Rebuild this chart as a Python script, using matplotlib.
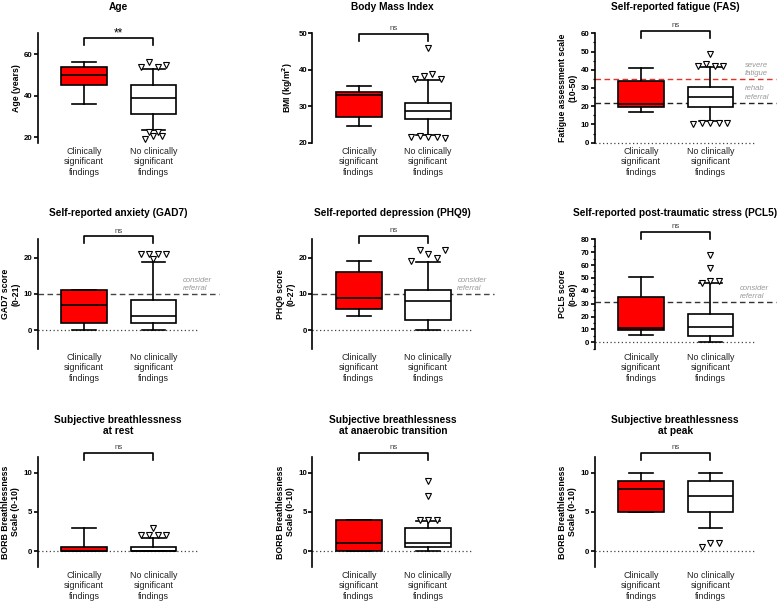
import numpy as np
import matplotlib
matplotlib.use('Agg')
import matplotlib.pyplot as plt
from matplotlib.ticker import MultipleLocator

plt.rcParams['font.family'] = ['Liberation Sans', 'DejaVu Sans']

groups = ['Clinically\nsignificant\nfindings', 'No clinically\nsignificant\nfindings']

# box stats per group: [whisker low, q1, median, q3, whisker high]
age_box = [[36, 45, 50, 53.6, 56], [23.5, 31.2, 38.9, 45.4, 52.9]]
age_out = [[], [54, 56, 54, 55, 22.7, 22.7, 19.2, 20.5, 20.5]]
bmi_box = [[24.6, 27.1, 33.0, 33.8, 35.5], [22.0, 26.4, 28.6, 30.9, 37.2]]
bmi_out = [[], [46, 37.4, 38.3, 38.9, 37.6, 21.5, 21.8, 21.5, 21.6, 21.3]]
fas_box = [[17, 19.5, 21, 34, 41], [12, 19.5, 25, 30.5, 41.5]]
fas_out = [[], [48.5, 42, 43, 42, 42, 10, 11, 11, 11, 11]]
gad7_box = [[0, 2, 7, 11, 11], [0, 2, 4, 8.3, 18.8]]
gad7_out = [[], [21, 21, 21, 21, 19.5]]
phq9_box = [[4, 6, 9, 16, 19], [0, 3, 8, 11, 18.7]]
phq9_out = [[], [19, 22, 21, 20, 22]]
pcl5_box = [[6, 9.5, 11, 35.5, 51], [0, 5, 12, 22, 46]]
pcl5_out = [[], [68, 58, 46, 47.5, 47.5]]
rest_box = [[0, 0, 0, 0.5, 3], [0, 0, 0, 0.5, 1.7]]
rest_out = [[], [2, 2, 2, 2, 3]]
anaer_box = [[0, 0, 1, 4, 4], [0, 0.5, 1, 3, 3.8]]
anaer_out = [[], [9, 7, 4, 4, 4]]
peak_box = [[5, 5, 8, 9, 10], [3, 5, 7, 9, 10]]
peak_out = [[], [0.5, 1, 1]]

sig = ['**', 'ns', 'ns', 'ns', 'ns', 'ns', 'ns', 'ns', 'ns']

# thresholds: (value, colour, note)
fas_ref = [(35, '#e8302a', 'severe\nfatigue'), (22, '#222222', 'rehab\nreferral')]
gad7_ref = [(10, '#444444', 'consider\nreferral')]
phq9_ref = [(10, '#444444', 'consider\nreferral')]
pcl5_ref = [(31, '#333333', 'consider\nreferral')]

panels = [
    dict(title='Age', ylabel='Age (years)', box=age_box, out=age_out,
         ylim=(17.5, 70), ticks=[20, 40, 60], minor=None, br=0.96, ref=[], zero=False),
    dict(title='Body Mass Index', ylabel='BMI (kg/m$^\\mathbf{2}$)', box=bmi_box, out=bmi_out,
         ylim=(20, 50), ticks=[20, 30, 40, 50], minor=None, br=0.994, ref=[], zero=False),
    dict(title='Self-reported fatigue (FAS)', ylabel='Fatigue assessment scale\n(10-50)',
         box=fas_box, out=fas_out, ylim=(0, 60), ticks=range(0, 61, 10), minor=5,
         br=1.02, ref=fas_ref, zero=True, notex=2.5),
    dict(title='Self-reported anxiety (GAD7)', ylabel='GAD7 score\n(0-21)', box=gad7_box,
         out=gad7_out, ylim=(-5, 25), ticks=[0, 10, 20], minor=None, br=1.028,
         ref=gad7_ref, zero=True),
    dict(title='Self-reported depression (PHQ9)', ylabel='PHQ9 score\n(0-27)', box=phq9_box,
         out=phq9_out, ylim=(-5, 25), ticks=[0, 10, 20], minor=None, br=1.03,
         ref=phq9_ref, zero=True),
    dict(title='Self-reported post-traumatic stress (PCL5)', ylabel='PCL5 score\n(0-80)',
         box=pcl5_box, out=pcl5_out, ylim=(-5, 80), ticks=range(0, 81, 10), minor=5,
         br=1.07, ref=pcl5_ref, zero=True),
    dict(title='Subjective breathlessness\nat rest', ylabel='BORB Breathlessness\nScale (0-10)',
         box=rest_box, out=rest_out, ylim=(-2, 12), ticks=[0, 5, 10], minor=None,
         br=1.042, ref=[], zero=True),
    dict(title='Subjective breathlessness\nat anaerobic transition',
         ylabel='BORB Breathlessness\nScale (0-10)', box=anaer_box, out=anaer_out,
         ylim=(-2, 12), ticks=[0, 5, 10], minor=None, br=1.042, ref=[], zero=True),
    dict(title='Subjective breathlessness\nat peak', ylabel='BORB Breathlessness\nScale (0-10)',
         box=peak_box, out=peak_out, ylim=(-2, 12), ticks=[0, 5, 10], minor=None,
         br=1.042, ref=[], zero=True),
]

W, H = 784, 602
col_left = [37.7, 312.4, 594.7]
row_top = [33.3, 239.3, 457.3]
ax_w, ax_h = 160.8, 109.4
lw = 1.2


def spread(ax, vals, xc, step=0.123, tol_px=4.0):
    # put outliers that would overlap side by side
    vals = np.asarray(vals, dtype=float)
    ys = ax.transData.transform(np.column_stack([np.full(len(vals), xc), vals]))[:, 1]
    order = np.argsort(ys, kind='stable')
    grp = []
    for i in order:
        if grp and ys[i] - ys[grp[-1][-1]] < tol_px:
            grp[-1].append(i)
        else:
            grp.append([i])
    xs = np.full(len(vals), float(xc))
    for g in grp:
        g = sorted(g)
        n = len(g)
        for k, i in enumerate(g):
            xs[i] = xc + (k - (n - 1) / 2) * step
    return xs


fig = plt.figure(figsize=(W / 100, H / 100), dpi=100)

for n, p in enumerate(panels):
    r, c = divmod(n, 3)
    ax = fig.add_axes([col_left[c] / W, 1 - (row_top[r] + ax_h) / H, ax_w / W, ax_h / H])
    ax.set_xlim(0.33, 2.65)
    ax.set_ylim(*p['ylim'])

    stats = []
    for b in p['box']:
        stats.append(dict(whislo=b[0], q1=b[1], med=b[2], q3=b[3], whishi=b[4], fliers=[]))
    bp = ax.bxp(stats, positions=[1, 2], widths=0.66, capwidths=0.34, patch_artist=True,
                showfliers=False, manage_ticks=False,
                boxprops=dict(linewidth=lw, edgecolor='black'),
                whiskerprops=dict(linewidth=lw, color='black'),
                capprops=dict(linewidth=lw, color='black'),
                medianprops=dict(linewidth=lw, color='black'))
    bp['boxes'][0].set_facecolor('#ff0000')
    bp['boxes'][1].set_facecolor('white')

    for i, o in enumerate(p['out']):
        if len(o) == 0:
            continue
        xs = spread(ax, o, i + 1)
        ax.plot(xs, o, 'v', ms=4, mfc='white', mec='black', mew=0.8, zorder=5, clip_on=False)

    if p['zero']:
        ax.plot([0.33, 2.65], [0, 0], ls=(0, (1, 2)), color='#444444', lw=0.9,
                zorder=1, clip_on=False)
    for y, col, note in p['ref']:
        ax.plot([0.33, 2.95], [y, y], ls=(0, (4, 2.5)), color=col, lw=1.0,
                zorder=1, clip_on=False)
        ax.annotate(note, (p.get('notex', 2.42), y), xytext=(0, 1.5),
                    textcoords='offset points', ha='left', va='bottom',
                    fontsize=5.6, style='italic', color='#9a9a9a',
                    linespacing=1.25, annotation_clip=False)

    # significance bracket
    tr = ax.get_xaxis_transform()
    drop = 7 / ax_h
    ax.plot([1, 1, 2, 2], [p['br'] - drop, p['br'], p['br'], p['br'] - drop],
            color='black', lw=lw, transform=tr, clip_on=False)
    if sig[n] == '**':
        ax.annotate(sig[n], (1.5, p['br']), xycoords=tr, xytext=(0, -1.5),
                    textcoords='offset points', ha='center', va='bottom',
                    fontsize=8.5, color='black')
    else:
        ax.annotate(sig[n], (1.5, p['br']), xycoords=tr, xytext=(0, 1.2),
                    textcoords='offset points', ha='center', va='bottom',
                    fontsize=5.7, color='#444444')

    for s in ['top', 'right', 'bottom']:
        ax.spines[s].set_visible(False)
    ax.spines['left'].set_linewidth(lw)
    ax.set_yticks(list(p['ticks']))
    if p['minor']:
        ax.yaxis.set_minor_locator(MultipleLocator(p['minor']))
    ax.tick_params(axis='y', which='major', length=3, width=lw, pad=0.8, labelsize=5.7)
    ax.tick_params(axis='y', which='minor', length=1.8, width=0.9)
    for t in ax.get_yticklabels():
        t.set_fontweight('bold')
    ax.set_xticks([1, 2])
    ax.set_xticklabels(groups, fontsize=6.4, color='#222222')
    ax.tick_params(axis='x', length=0, pad=3)
    ax.set_ylabel(p['ylabel'], fontsize=6.3, fontweight='bold', labelpad=2.2, linespacing=1.15)
    ax.set_title(p['title'], fontsize=7.3, fontweight='bold', pad=16.5, linespacing=1.2)

fig.savefig('out.png', dpi=100)
